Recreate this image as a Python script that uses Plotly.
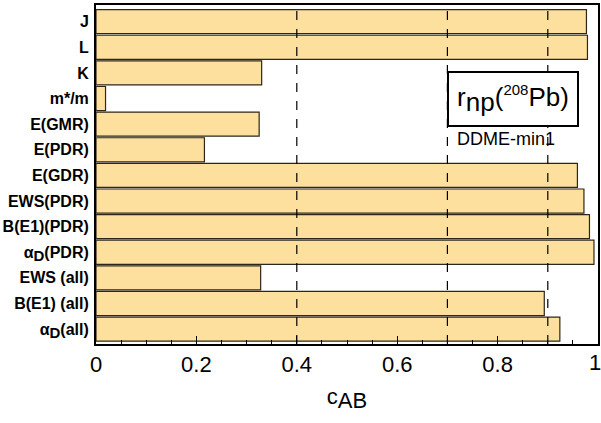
import plotly.graph_objects as go

categories = ["J", "L", "K", "m*/m", "E(GMR)", "E(PDR)", "E(GDR)", "EWS(PDR)",
              "B(E1)(PDR)", "α<sub><span style='font-size:15px'>D</span></sub>(PDR)",
              "EWS (all)", "B(E1) (all)", "α<sub><span style='font-size:15px'>D</span></sub>(all)"]
values = [0.977, 0.979, 0.33, 0.019, 0.325, 0.216, 0.959, 0.972, 0.983, 0.992, 0.328, 0.893, 0.924]
dashed_x = [0.4, 0.7, 0.9]
tick_vals = [0, 0.2, 0.4, 0.6, 0.8, 1]
tick_text = ["0", "0.2", "0.4", "0.6", "0.8", "1"]

fig = go.Figure()
fig.add_trace(go.Bar(
    x=values, y=categories, orientation="h",
    marker=dict(color="#FEE09E", line=dict(color="#2e2618", width=1.2)),
    showlegend=False,
))

for xv in dashed_x:
    fig.add_shape(type="line", xref="x", yref="paper", x0=xv, x1=xv, y0=0, y1=1,
                  line=dict(color="black", width=1.2, dash="dash"), layer="above")

fig.add_annotation(
    xref="x", yref="paper", x=0.7, y=0.805, xanchor="left", yanchor="top",
    text="r<sub><span style='font-size:26px'>np</span></sub>(<sup><span style='font-size:15px'>208</span></sup>Pb)",
    showarrow=False, font=dict(family="Liberation Sans, Arial", size=26, color="black"),
    bgcolor="white", bordercolor="black", borderwidth=2, borderpad=4,
    width=120, height=44,
)
fig.add_annotation(
    xref="x", yref="paper", x=0.716, y=0.64, xanchor="left", yanchor="top",
    text="DDME-min1", showarrow=False,
    font=dict(family="Liberation Sans, Arial", size=18, color="black"),
)
# last tick label kept inside the page (right-aligned at the axis end)
fig.add_annotation(
    xref="paper", yref="paper", x=1, y=0, xanchor="right", yanchor="top",
    xshift=4, yshift=-5, borderpad=0,
    text=tick_text[-1], showarrow=False,
    font=dict(family="Liberation Sans, Arial", size=22, color="black"),
)

fig.update_layout(
    width=601, height=423,
    margin=dict(l=96, r=3, t=5, b=79),
    plot_bgcolor="white", paper_bgcolor="white",
    bargap=0.06,
    font=dict(family="Liberation Sans, Arial", color="black"),
    xaxis=dict(
        range=[0, 1], tickvals=tick_vals, ticktext=tick_text[:-1] + [""],
        ticks="inside", ticklen=8, tickwidth=1, tickcolor="black",
        minor=dict(ticks="inside", ticklen=4, dtick=0.05, tickcolor="black", tickwidth=1, showgrid=False),
        showgrid=False, zeroline=False, automargin=False,
        showline=True, linecolor="black", linewidth=2, mirror=True,
        tickfont=dict(size=22),
        title=dict(text="c<sub><span style='font-size:22px'>AB</span></sub>", font=dict(size=22), standoff=12),
    ),
    yaxis=dict(
        range=[12.58, -0.65], ticks="", showgrid=False, zeroline=False, automargin=False,
        showline=True, linecolor="black", linewidth=2, mirror=True,
        tickfont=dict(size=16, family="Liberation Sans, Arial", weight="bold"),
        ticklabelstandoff=2,
    ),
)

fig.write_html("out.html", config={"displayModeBar": False},
               post_script="document.body.style.margin='0';document.body.style.overflow='hidden';")
